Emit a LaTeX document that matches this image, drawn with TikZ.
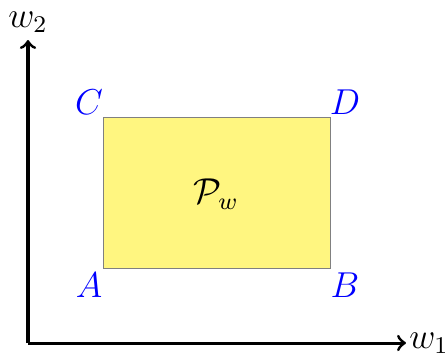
\documentclass[tikz,border=0pt]{standalone}
\begin{document}
\begin{tikzpicture}[x=0.3333pt,y=-0.3333pt,
  axis/.style={line width=1pt,-to},
  lab/.style={text=blue,font=\large,inner sep=0pt},
  region/.style={draw=gray,line width=0.3pt,fill={rgb,255:red,255;green,246;blue,128}}]
\useasboundingbox (0,0) rectangle (447,354);
\coordinate (O) at (28,343);
\coordinate (Y) at (28,40);
\coordinate (X) at (406,343);
\draw[axis] (O) -- (Y);
\draw[axis] (O) -- (X);
\node[inner sep=0pt,font=\large] (w2) at (28,22) {$w_2$};
\node[inner sep=0pt,font=\large] (w1) at (429,343) {$w_1$};
\node[region,minimum width=227*0.3333pt,minimum height=151*0.3333pt,inner sep=0pt] (P) at (216.5,192.5) {};
\node[font=\large] at (216,194) {$\mathcal{P}_w$};
\node[lab] (C) at (89,102) {$C$};
\node[lab] (D) at (345,102) {$D$};
\node[lab] (A) at (89,285) {$A$};
\node[lab] (B) at (345,285) {$B$};
\end{tikzpicture}
\end{document}
